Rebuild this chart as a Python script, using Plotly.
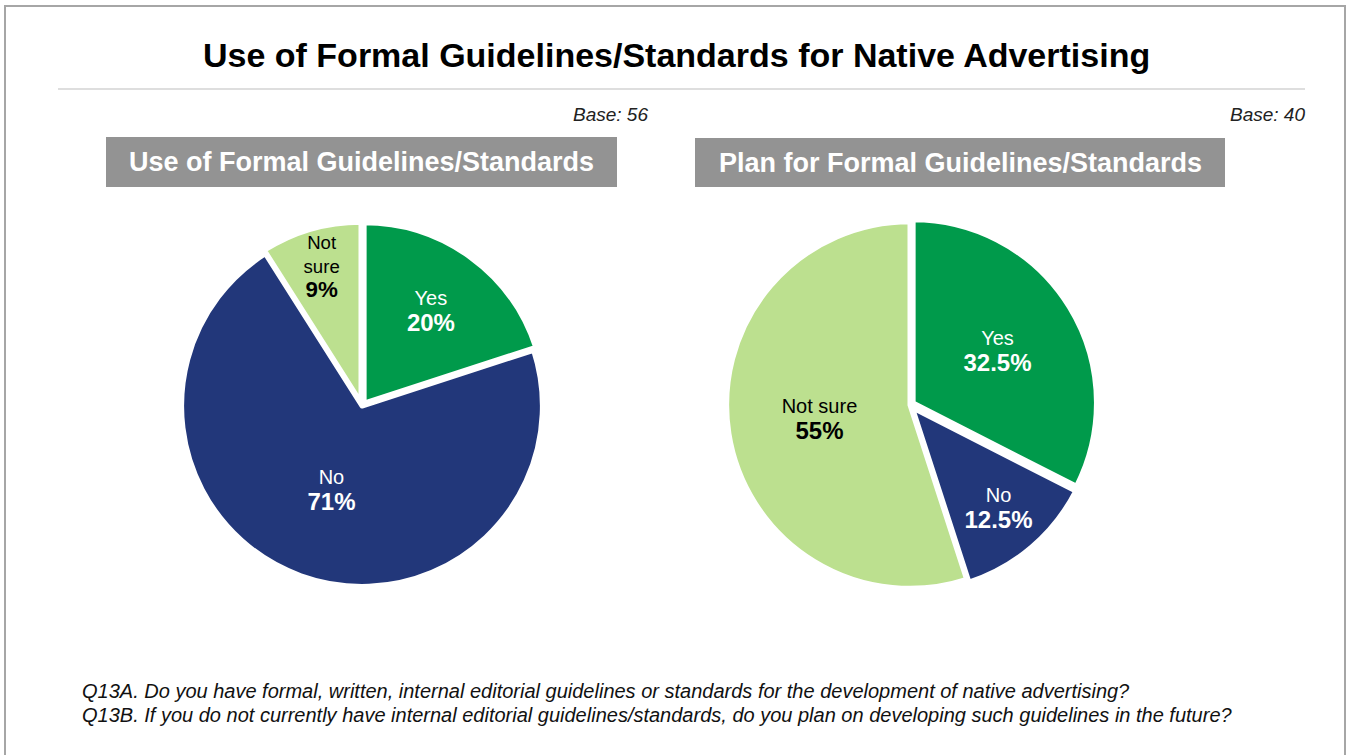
import plotly.graph_objects as go

categories = ["Yes", "No", "Not sure"]
use_values = [20, 71, 9]
plan_values = [32.5, 12.5, 55]
use_text_labels = ["Yes", "No", "Not<br>sure"]
plan_text_labels = ["Yes", "No", "Not sure"]
colors = ["#009A4B", "#22377A", "#BCE08F"]
text_colors = ["white", "white", "black"]

W, H = 1351, 755
FONT = "Liberation Sans Narrow, Liberation Sans, Arial, sans-serif"

def px(x):
    return x / W

def py(y):
    return 1 - y / H

fig = go.Figure()

def fmt(v):
    return ("%g" % v) + "%"

fig.add_trace(go.Pie(
    labels=categories, values=use_values,
    text=[f"{l}<br><b style='font-size:24px'>{fmt(v)}</b>" for l, v in zip(use_text_labels, use_values)],
    textinfo="text", textposition="inside", insidetextorientation="horizontal",
    sort=False, direction="clockwise", rotation=0,
    marker=dict(colors=colors, line=dict(color="white", width=5)),
    pull=[0.02, 0, 0.02],
    insidetextfont=dict(color=text_colors, size=20, family=FONT),
    domain=dict(x=[px(178), px(546)], y=[py(598), py(214)]),
    showlegend=False, hoverinfo="label+value",
))

fig.add_trace(go.Pie(
    labels=categories, values=plan_values,
    text=[f"{l}<br><b style='font-size:24px'>{fmt(v)}</b>" for l, v in zip(plan_text_labels, plan_values)],
    textinfo="text", textposition="inside", insidetextorientation="horizontal",
    sort=False, direction="clockwise", rotation=0,
    marker=dict(colors=colors, line=dict(color="white", width=5)),
    pull=[0.02, 0.02, 0],
    insidetextfont=dict(color=text_colors, size=20, family=FONT),
    domain=dict(x=[px(723), px(1097)], y=[py(592), py(218)]),
    showlegend=False, hoverinfo="label+value",
))

shapes = [
    # outer frame
    dict(type="rect", xref="paper", yref="paper", x0=px(5), x1=px(1345), y0=py(760), y1=py(6),
         line=dict(color="#A6A6A6", width=2), fillcolor="rgba(0,0,0,0)", layer="below"),
    # rule under title
    dict(type="line", xref="paper", yref="paper", x0=px(58), x1=px(1305), y0=py(89), y1=py(89),
         line=dict(color="#BDBDBD", width=1)),
    # subtitle boxes
    dict(type="rect", xref="paper", yref="paper", x0=px(106), x1=px(617), y0=py(187), y1=py(137),
         fillcolor="#939393", line=dict(width=0), layer="below"),
    dict(type="rect", xref="paper", yref="paper", x0=px(695), x1=px(1225), y0=py(187), y1=py(138),
         fillcolor="#939393", line=dict(width=0), layer="below"),
]

annotations = [
    dict(text="<b>Use of Formal Guidelines/Standards for Native Advertising</b>", x=px(677), y=py(55),
         xref="paper", yref="paper", showarrow=False, xanchor="center", yanchor="middle",
         font=dict(size=34, color="black", family=FONT)),
    dict(text="<i>Base: 56</i>", x=px(650), y=py(114), xref="paper", yref="paper", showarrow=False,
         xanchor="right", yanchor="middle", font=dict(size=19, color="#222", family=FONT)),
    dict(text="<i>Base: 40</i>", x=px(1307), y=py(114), xref="paper", yref="paper", showarrow=False,
         xanchor="right", yanchor="middle", font=dict(size=19, color="#222", family=FONT)),
    dict(text="<b>Use of Formal Guidelines/Standards</b>", x=px(361), y=py(162), xref="paper", yref="paper",
         showarrow=False, xanchor="center", yanchor="middle", font=dict(size=27, color="white", family=FONT)),
    dict(text="<b>Plan for Formal Guidelines/Standards</b>", x=px(960), y=py(163), xref="paper", yref="paper",
         showarrow=False, xanchor="center", yanchor="middle", font=dict(size=27, color="white", family=FONT)),
    dict(text="<i>Q13A. Do you have formal, written, internal editorial guidelines or standards for the development of native advertising?</i>",
         x=px(80), y=py(691), xref="paper", yref="paper", showarrow=False, xanchor="left", yanchor="middle",
         font=dict(size=20, color="#111", family=FONT)),
    dict(text="<i>Q13B. If you do not currently have internal editorial guidelines/standards, do you plan on developing such guidelines in the future?</i>",
         x=px(80), y=py(715), xref="paper", yref="paper", showarrow=False, xanchor="left", yanchor="middle",
         font=dict(size=20, color="#111", family=FONT)),
]

fig.update_layout(
    width=W, height=H, margin=dict(l=0, r=0, t=0, b=0),
    paper_bgcolor="white", plot_bgcolor="white",
    shapes=shapes, annotations=annotations,
    font=dict(family=FONT),
)

fig.write_html("out.html", config={"displayModeBar": False},
               post_script="document.body.style.margin='0';document.body.style.overflow='hidden';")
